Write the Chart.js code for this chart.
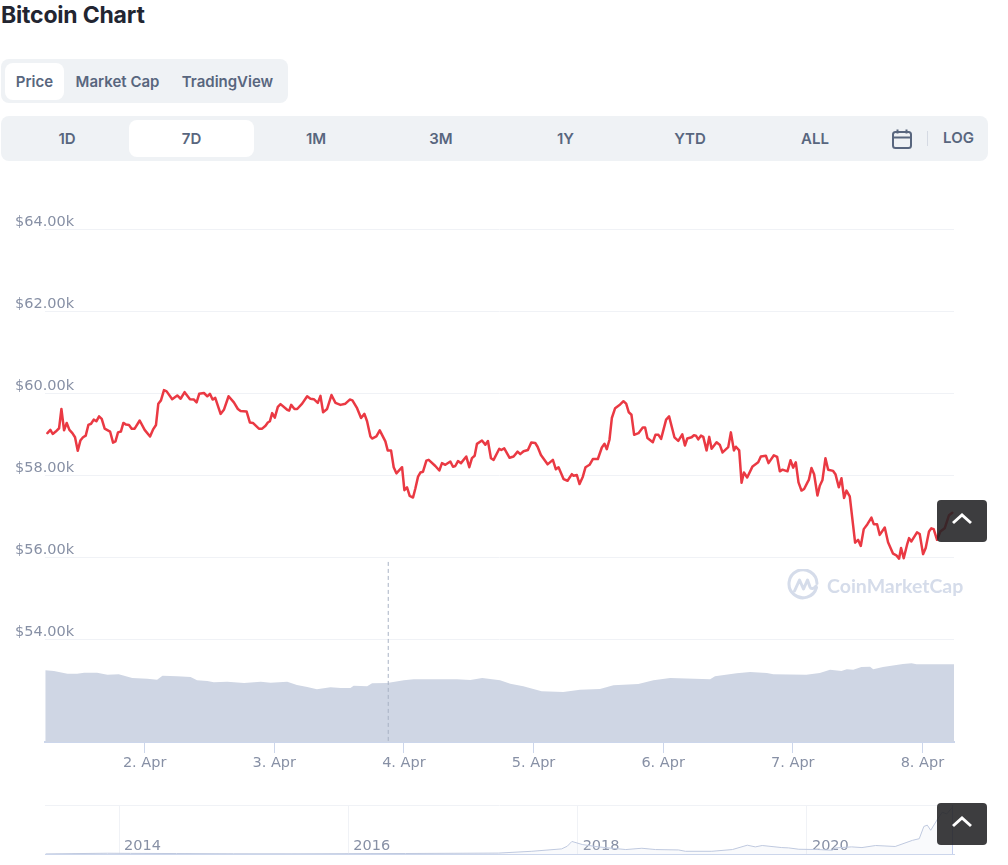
<!DOCTYPE html>
<html>
<head>
<meta charset="utf-8">
<title>Bitcoin Chart</title>
<script src="https://cdn.jsdelivr.net/npm/chart.js@4/dist/chart.umd.min.js"></script>
<style>
html, body { margin: 0; padding: 0; background: #fff; }
body { position: relative; width: 1008px; height: 865px; overflow: hidden; font-family: Inter, "Noto Sans", sans-serif; }
.abs { position: absolute; }
canvas { position: absolute; left: 0; }
#title { left: 1px; top: 1px; font-size: 23px; line-height: 28px; font-weight: 700; color: #222531; letter-spacing: -0.2px; }
.bar { background: #eff2f5; border-radius: 8px; }
.pill { background: #fff; border-radius: 8px; }
.lbl { font-size: 15px; line-height: 20px; font-weight: 600; color: #58667e; white-space: nowrap; transform: translateX(-50%); }
.top-btn { left: 937px; width: 50px; height: 42px; border-radius: 4px; background: rgba(34, 34, 36, 0.88); z-index: 5; }
.top-btn svg { position: absolute; left: 14px; top: 11px; }
#wm { left: 827px; top: 573px; font-family: Lato, sans-serif; font-weight: 700; font-size: 19.5px; line-height: 26px; color: #d5dcea; white-space: nowrap; }
</style>
</head>
<body>
<div id="title" class="abs">Bitcoin Chart</div>

<div class="abs bar" style="left:1px;top:59px;width:287px;height:44px"></div>
<div class="abs pill" style="left:5px;top:63px;width:59px;height:37px"></div>
<div class="abs lbl" style="left:34.5px;top:72px">Price</div>
<div class="abs lbl" style="left:117.5px;top:72px">Market Cap</div>
<div class="abs lbl" style="left:227.5px;top:72px">TradingView</div>

<div class="abs bar" style="left:1px;top:116px;width:987px;height:45px"></div>
<div class="abs pill" style="left:129px;top:120px;width:125px;height:37px"></div>
<div class="abs lbl" style="left:67px;top:129px">1D</div>
<div class="abs lbl" style="left:191.5px;top:129px">7D</div>
<div class="abs lbl" style="left:316px;top:129px">1M</div>
<div class="abs lbl" style="left:441px;top:129px">3M</div>
<div class="abs lbl" style="left:565.5px;top:129px">1Y</div>
<div class="abs lbl" style="left:690px;top:129px">YTD</div>
<div class="abs lbl" style="left:815px;top:129px">ALL</div>
<svg class="abs" style="left:891px;top:128px" width="22" height="22" viewBox="0 0 22 22" fill="none" stroke="#58667e" stroke-width="2">
  <rect x="2" y="4" width="18" height="16" rx="2.5"/>
  <path d="M2 9.5h18M6.5 1.5v4M15.5 1.5v4"/>
</svg>
<div class="abs" style="left:927px;top:131px;width:1px;height:15px;background:#d5dae3"></div>
<div class="abs lbl" style="left:958.5px;top:128px">LOG</div>

<canvas id="price-chart" width="1008" height="590" style="top:200px"></canvas>
<canvas id="nav-chart" width="1008" height="75" style="top:790px"></canvas>

<svg class="abs" style="left:787px;top:569px" width="32" height="32" viewBox="0 0 32 32" fill="none" stroke="#d5dcea" stroke-width="3" stroke-linecap="round" stroke-linejoin="round">
  <path d="M29.5 18.5A14 14 0 1 1 30 14.5"/>
  <path d="M7.5 22l5-11 4 9 4-9 2.5 7c1 2.500 4 2 6-1"/>
</svg>
<div id="wm" class="abs">CoinMarketCap</div>

<div class="abs top-btn" style="top:500px">
  <svg width="22" height="14" viewBox="0 0 22 14" fill="none" stroke="#fff" stroke-width="3"><path d="M2 12l9-8 9 8"/></svg>
</div>
<div class="abs top-btn" style="top:803px">
  <svg width="22" height="14" viewBox="0 0 22 14" fill="none" stroke="#fff" stroke-width="3"><path d="M2 12l9-8 9 8"/></svg>
</div>

<script>
// hours since 1 Apr 00:00
var priceHours = [
  6.0,6.55,6.98,7.54,8.16,8.59,9.08,9.57,10.07,10.62,11.11,11.61,12.1,12.59,13.09,13.58,14.08,14.57,15.06,15.56,
  16.05,16.6,17.6,18.15,18.6,19.07,19.6,20.06,20.55,21.1,21.6,22.15,23.08,24.0,25.0,25.6,26.1,26.53,27.02,27.58,
  28.07,29.1,30.04,30.66,31.4,32.39,33.13,33.62,34.1,34.98,35.6,36.08,36.58,37.07,38.06,38.67,39.54,40.52,41.26,41.76,
  42.87,43.49,44.04,45.15,45.76,46.38,46.81,47.18,47.61,48.1,48.66,49.16,50.39,50.76,51.13,51.74,52.24,53.16,54.09,54.7,
  55.32,56.06,56.55,57.04,57.78,58.59,59.33,60.25,61.17,61.98,62.47,63.33,64.07,64.69,65.18,65.8,66.11,66.9,67.53,68.57,
  69.0,69.62,70.11,70.61,71.66,72.09,72.58,73.07,73.69,74.12,74.62,75.05,75.54,76.16,76.59,77.82,78.56,79.05,79.67,80.6,
  81.09,81.52,82.01,82.57,83.55,84.11,84.6,85.1,85.53,86.45,87.07,87.56,88.12,88.61,89.66,90.03,90.58,91.57,92.31,93.05,
  93.54,94.16,94.96,95.58,96.32,96.75,97.37,98.6,99.58,100.14,100.63,101.56,102.3,103.1,103.41,104.02,104.52,105.13,105.63,106.37,
  106.98,107.91,108.65,109.14,109.57,110.06,110.5,111.11,112.04,112.65,113.15,113.64,114.13,114.63,115.43,116.23,116.66,117.09,118.08,118.57,
  119.13,119.62,120.55,121.1,122.09,122.8,123.54,124.03,124.47,125.27,125.7,126.07,126.5,127.0,127.43,128.04,128.53,128.97,129.89,130.51,
  131.0,132.05,132.54,133.1,133.47,134.08,134.52,134.95,135.56,136.55,137.6,138.09,139.02,139.51,140.5,141.11,141.6,142.1,143.02,143.58,
  144.07,144.56,145.06,145.61,146.1,146.72,146.97,147.46,147.95,148.57,149.0,149.5,150.05,150.55,151.47,151.9,152.52,153.01,153.5,153.94,
  154.55,155.54,156.09,156.59,157.14,157.82,158.56,158.99,159.61,160.1,161.03,161.64,162.57,163.18,163.68,164.05,164.54,165.16,165.53,165.96,
  167.0,167.5,168.12,168.61,169.22,169.66,170.09,170.71,171.32,172.12,172.93,173.54
];
var priceValues = [
  59020,59100,59000,59060,59140,59610,59090,59270,59100,59020,58920,58590,58840,58920,58960,59220,59250,59350,59310,59430,
  59370,59130,59060,58790,58820,59040,59060,59270,59230,59220,59130,59130,59330,59100,58940,59120,59220,59740,59820,60070,
  60040,59850,59940,59860,60020,59850,59840,59770,59980,60000,59920,59980,59840,59880,59490,59590,59920,59770,59610,59560,
  59550,59280,59270,59130,59130,59200,59280,59310,59510,59400,59660,59730,59590,59570,59710,59610,59610,59740,59920,59860,
  59850,59760,59930,59530,59610,59950,59760,59710,59740,59840,59820,59630,59390,59490,59310,58940,58890,58940,59090,58820,
  58600,58600,58190,58040,58190,57630,57700,57490,57450,57670,57960,58060,58080,58350,58370,58220,58110,58290,58250,58330,
  58200,58220,58340,58290,58450,58190,58410,58470,58760,58840,58740,58830,58410,58370,58640,58610,58650,58420,58450,58570,
  58510,58580,58610,58790,58780,58690,58490,58260,58370,58140,58190,57900,57860,58020,57980,58000,57780,57960,58190,58250,
  58390,58390,58670,58760,58630,58860,59390,59630,59720,59800,59740,59530,59470,58980,59020,59160,59160,58900,58800,58980,
  58980,58880,59350,59430,58920,58830,58990,58720,58890,58920,58970,58960,58870,58960,58930,58600,58930,58640,58800,58730,
  58550,58680,59040,58600,58690,58600,57810,58060,57940,58210,58310,58450,58470,58290,58480,58440,58090,58130,58090,58360,
  58180,58310,57820,57620,57660,57820,57880,58170,58020,57500,57740,57880,58410,58130,58100,58020,57700,57920,57440,57620,
  57480,56350,56420,56270,56680,56800,56960,56800,56800,56540,56720,56360,56080,56040,55960,56220,55970,56300,56460,56380,
  56600,56560,56070,56220,56620,56700,56680,56420,56620,56700,57020,57080
];

var volumeHours = [
  5.6,7.2,9.7,11.5,12.8,15.2,17.1,19.2,21.7,24.5,26.3,27.3,30,32.5,33.7,35.6,36.8,39.3,42.4,45.5,
  47.3,50.4,52.2,54.1,55.9,58.4,60.3,62.1,62.7,65.2,66.1,68.9,72,73.8,81.8,84.3,86.5,89.8,91.7,94.1,
  97.5,101.5,104.6,108.3,110.8,115.4,118.2,121.3,128.7,129.6,133.6,136.1,139.2,140.4,146.5,149,150.9,153,154,155.2,
  156.7,158.3,158.9,160.7,164.4,166,166.9,173.85
];
// billions, no scale printed on the picture so these are estimates
var volumeValues = [
  71.7,71,68.3,68.3,69.3,69.3,67.3,67.7,64,63.3,62.3,66.3,65.7,65,61.7,61,59.7,60.3,59,60.3,
  59.3,60.3,57,55,52.7,54.7,54,54,56.3,55.7,58.7,59,61.7,62.7,62.7,62,64,61.7,58.3,55.7,
  50.7,50,52.3,53,56.7,58,61.7,64,62.7,65.7,68.7,70,69,67.7,67.3,69,72.3,71,72.7,72.3,
  75,75.3,72.7,75,78,78.7,77.7,77.7
];

var priceTicks = [54000, 56000, 58000, 60000, 62000, 64000];
var priceTickLabels = ['$54.00k', '$56.00k', '$58.00k', '$60.00k', '$62.00k', '$64.00k'];
var dayTicks = [24, 48, 72, 96, 120, 144, 168];
var dayLabels = ['2. Apr', '3. Apr', '4. Apr', '5. Apr', '6. Apr', '7. Apr', '8. Apr'];
var crosshairHour = [69.1, 69.1];
var crosshairPrice = [55880, 51488];

var navYears = [
  2013.36,2013.9,2014.1,2014.5,2015.0,2015.5,2016.0,2016.5,2017.0,2017.31,2017.6,2017.86,2017.91,2017.95,2018.04,2018.18,2018.42,2018.56,2018.68,2018.88,
  2018.94,2019.17,2019.35,2019.48,2019.55,2019.61,2019.78,2019.84,2019.93,2020.1,2020.22,2020.25,2020.39,2020.48,2020.6,2020.77,2020.92,2020.98,2021.02,2021.05,
  2021.08,2021.14,2021.18,2021.22,2021.27
];
var navPrices = [
  120,1000,800,600,300,250,430,650,1000,1200,3550,6660,10200,16400,12400,9300,5800,7500,5800,5300,
  3550,3550,5800,11500,9300,11100,8400,8000,6200,5800,4900,8000,9300,8400,11100,9800,17800,20000,36000,37700,
  31000,45700,54600,52400,61300
];
var navTicks = [2014, 2016, 2018, 2020];
var navHandleYear = [2021.27, 2021.27];
var navHandlePrice = [0, 64000];

var LABEL_FONT = { family: '"DejaVu Sans", sans-serif', size: 14.5 };
var LABEL_COLOR = '#8790a5';
var GRID_COLOR = '#f0f2f6';
var AXIS_COLOR = '#ccd6eb';

function toPoints(xs, ys) {
    return xs.map(function (x, i) { return { x: x, y: ys[i] }; });
}

function setTicks(values) {
    return function (scale) {
        scale.ticks = values.map(function (v) { return { value: v }; });
    };
}

function buildPriceChart() {
    new Chart(document.getElementById('price-chart'), {
        type: 'line',
        data: {
            datasets: [{
                data: toPoints(priceHours, priceValues),
                yAxisID: 'y',
                borderColor: '#ea3943',
                borderWidth: 2.5,
                borderJoinStyle: 'round',
                borderCapStyle: 'round',
                pointRadius: 0,
                tension: 0,
                order: 1
            }, {
                data: toPoints(crosshairHour, crosshairPrice),
                yAxisID: 'y',
                borderColor: '#a9b2c4',
                borderWidth: 1,
                borderDash: [4, 3],
                pointRadius: 0,
                order: 2
            }, {
                data: toPoints(volumeHours, volumeValues),
                yAxisID: 'yVolume',
                backgroundColor: '#cfd6e4',
                borderWidth: 0,
                pointRadius: 0,
                fill: 'origin',
                order: 3
            }]
        },
        options: {
            responsive: false,
            animation: false,
            layout: { padding: { top: 29, right: 54, bottom: 0, left: 0 } },
            plugins: { legend: { display: false }, tooltip: { enabled: false } },
            scales: {
                x: {
                    type: 'linear',
                    min: 5.55,
                    max: 173.85,
                    afterBuildTicks: setTicks(dayTicks),
                    afterFit: function (axis) { axis.height = 48; },
                    grid: { drawOnChartArea: false, color: AXIS_COLOR, tickLength: 11 },
                    border: { color: AXIS_COLOR, width: 2 },
                    ticks: {
                        font: LABEL_FONT,
                        color: LABEL_COLOR,
                        padding: 2,
                        maxRotation: 0,
                        autoSkip: false,
                        callback: function (v) { return dayLabels[dayTicks.indexOf(v)]; }
                    }
                },
                y: {
                    min: 51488,
                    max: 64000,
                    afterBuildTicks: setTicks(priceTicks),
                    afterFit: function (axis) { axis.width = 45; },
                    grid: { color: GRID_COLOR, drawTicks: false },
                    border: { display: false },
                    ticks: {
                        font: LABEL_FONT,
                        color: LABEL_COLOR,
                        mirror: true,
                        padding: -30,
                        labelOffset: -7,
                        autoSkip: false,
                        callback: function (v) { return priceTickLabels[priceTicks.indexOf(v)]; }
                    }
                },
                yVolume: { display: false, min: 0, max: 513 }
            }
        }
    });
}

function buildNavChart() {
    new Chart(document.getElementById('nav-chart'), {
        type: 'line',
        data: {
            datasets: [{
                data: toPoints(navYears, navPrices),
                borderColor: '#bfc9df',
                backgroundColor: 'rgba(207,214,228,0.12)',
                borderWidth: 1,
                pointRadius: 0,
                fill: 'origin'
            }, {
                data: toPoints(navHandleYear, navHandlePrice),
                borderColor: '#c3cff0',
                borderWidth: 1,
                pointRadius: 0
            }]
        },
        options: {
            responsive: false,
            animation: false,
            layout: { padding: { top: 15, right: 54, bottom: 0, left: 0 } },
            plugins: { legend: { display: false }, tooltip: { enabled: false } },
            scales: {
                x: {
                    type: 'linear',
                    min: 2013.354,
                    max: 2021.283,
                    afterBuildTicks: setTicks(navTicks),
                    afterFit: function (axis) { axis.height = 11; },
                    grid: { color: GRID_COLOR, drawTicks: false, lineWidth: 1 },
                    border: { color: AXIS_COLOR, width: 1 },
                    ticks: {
                        font: LABEL_FONT,
                        color: LABEL_COLOR,
                        align: 'start',
                        mirror: true,
                        padding: -1,
                        labelOffset: 5,
                        maxRotation: 0,
                        autoSkip: false,
                        callback: function (v) { return String(v); }
                    }
                },
                y: {
                    min: 0,
                    max: 64000,
                    afterBuildTicks: setTicks([64000]),
                    afterFit: function (axis) { axis.width = 45; },
                    grid: { color: GRID_COLOR, drawTicks: false },
                    border: { display: false },
                    ticks: { display: false }
                }
            }
        }
    });
}

buildPriceChart();
buildNavChart();
</script>
</body>
</html>
